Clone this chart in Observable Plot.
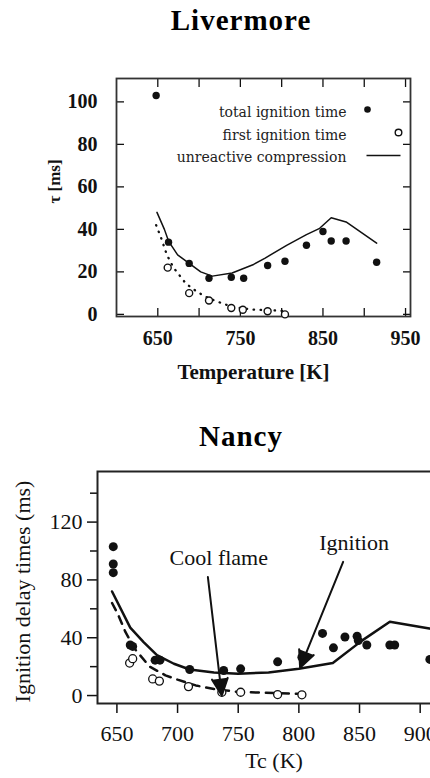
<!DOCTYPE html>
<html><head><meta charset="utf-8">
<script src="https://cdn.jsdelivr.net/npm/d3@7"></script>
<script src="https://cdn.jsdelivr.net/npm/@observablehq/plot@0.6"></script>
<style>
html, body {margin:0; padding:0; width:430px; height:778px; overflow:hidden; background:#fff;}
.title {position:absolute; left:26px; width:430px; text-align:center; font-family:"Liberation Serif", "Times New Roman", serif; font-weight:bold; font-size:29px; line-height:29px; letter-spacing:1px; color:#000;}
#liv {position:absolute; left:0; top:60px;}
#nan {position:absolute; left:0; top:460px; width:470px;}
#liv svg, #nan svg {max-width:none !important;}
#nan svg {width:470px !important; height:320px !important;}
</style></head>
<body>
<div class="title" style="top:6px">Livermore</div>
<div id="liv"></div>
<div class="title" style="top:422px">Nancy</div>
<div id="nan"></div>
<script>
// ---------- Livermore data ----------
const livTitle = "Livermore";
const livTotalT   = [648, 663, 688, 712, 739, 754, 783, 804, 830, 850, 860, 878, 915];
const livTotalTau = [103, 34, 24, 17, 17.5, 17, 23, 25, 32.5, 39, 34.5, 34.5, 24.5];
const livFirstT   = [662, 688, 712, 739, 753, 783, 804];
const livFirstTau = [22, 10, 6.5, 3, 2.2, 1.5, 0];
const livFirstModelT   = [648, 654, 661, 669, 676, 684, 698, 712, 726, 740, 766, 794, 806];
const livFirstModelTau = [42, 36, 28, 22, 18.5, 14.5, 10.5, 7.5, 5.5, 3.5, 2.2, 1.8, 1.5];
const livComprT   = [649, 658, 663, 674, 688, 702, 716, 740, 766, 780, 806, 830, 846, 860, 878, 915];
const livComprTau = [48, 40, 34.5, 28, 24, 20, 18, 19.5, 23.5, 26.5, 32.5, 37.5, 40.5, 45.5, 43.5, 33.5];
const livTickX = [650, 700, 750, 800, 850, 900, 950];
const livLabelX = [650, 750, 850, 950];
const livTickY = [0, 20, 40, 60, 80, 100];
const livLegend = ["total ignition time", "first ignition time", "unreactive compression"];
const livXLabel = "Temperature [K]";
const livYLabel = "τ [ms]";

// ---------- Nancy data ----------
const nanTitle = "Nancy";
const nanIgnT   = [647, 647, 647, 661, 663, 681.5, 685.5, 710, 738, 752, 782.5, 802.5, 819.5, 828.5, 838, 848, 849, 856, 875, 879, 908];
const nanIgnTau = [103, 91, 85, 35, 34, 24.5, 24.5, 18, 17.3, 18.5, 23.3, 26.5, 43, 33, 40.5, 41, 38, 35, 35, 35, 25];
const nanCoolT   = [660.5, 663, 679.5, 685, 709, 736.5, 752, 782.5, 802.5];
const nanCoolTau = [22.5, 25.5, 11.5, 10, 6.2, 2.3, 2.3, 0.7, 0.5];
const nanCoolModelT   = [646, 651, 657, 665, 677, 690, 700, 715, 730, 750, 770, 800];
const nanCoolModelTau = [64, 56, 44, 32, 20, 14, 11, 7, 4.5, 2.5, 2, 1.2];
const nanIgnModelT   = [646, 661, 672, 683, 697, 710, 730, 750, 775, 800, 828, 852, 875, 910];
const nanIgnModelTau = [72, 47, 37, 28, 22, 18, 16, 15, 16, 18.5, 22.5, 38, 51, 46];
const nanTickX = [650, 700, 750, 800, 850, 900];
const nanTickY = [0, 40, 80, 120];
const nanMinorY = [20, 60, 100, 140];
const nanXLabel = "Tc (K)";
const nanYLabel = "Ignition delay times (ms)";
const nanNotes = ["Cool flame", "Ignition"];
const nanNoteT   = [734, 845.5];
const nanNoteTau = [95.5, 105.5];
const nanArrowT1   = [725, 836.5];
const nanArrowTau1 = [82, 92.5];
const nanArrowT2   = [736.5, 801];
const nanArrowTau2 = [0, 19.2];

const pts = (xs, ys) => xs.map((x, i) => ({T: x, tau: ys[i]}));

const legendLine = {draw(ctx) { ctx.moveTo(-17, 0); ctx.lineTo(17, 0); }};

const liv = Plot.plot({
  width: 430, height: 330,
  marginLeft: 116, marginRight: 20, marginTop: 18, marginBottom: 74,
  x: {domain: [600, 956]},
  y: {domain: [-1, 111]},
  style: {fontFamily: "'Liberation Serif', serif", fontWeight: "bold", fontSize: "20px", color: "#111", background: "transparent"},
  marks: [
    Plot.axisX({anchor: "bottom", ticks: livTickX, tickSize: -8, tickFormat: () => "", label: null, strokeWidth: 1.3}),
    Plot.axisX({anchor: "top", ticks: livTickX, tickSize: -8, tickFormat: () => "", label: null, strokeWidth: 1.3}),
    Plot.axisY({anchor: "left", ticks: livTickY, tickSize: -8, tickFormat: () => "", label: null, strokeWidth: 1.3}),
    Plot.axisY({anchor: "right", ticks: livTickY, tickSize: -8, tickFormat: () => "", label: null, strokeWidth: 1.3}),
    Plot.axisX({anchor: "bottom", ticks: livLabelX, tickSize: 0, tickPadding: 14, label: null}),
    Plot.axisY({anchor: "left", ticks: livTickY, tickSize: 0, tickPadding: 19, label: null}),
    Plot.frame({stroke: "#333", strokeWidth: 1.8}),
    Plot.line(pts(livComprT, livComprTau), {x: "T", y: "tau", stroke: "#111", strokeWidth: 1.5}),
    Plot.line(pts(livFirstModelT, livFirstModelTau), {x: "T", y: "tau", stroke: "#111", strokeWidth: 2.3, strokeDasharray: "0.5 6.5", strokeLinecap: "round"}),
    Plot.dot(pts(livTotalT, livTotalTau), {x: "T", y: "tau", r: 3.7, fill: "#111"}),
    Plot.dot(pts(livFirstT, livFirstTau), {x: "T", y: "tau", r: 3.5, fill: "white", stroke: "#111", strokeWidth: 1.4}),
    Plot.text([livLegend.join("\n")], {frameAnchor: "top-right", text: d => d, textAnchor: "end", lineAnchor: "top", lineHeight: 1.63, dx: -64, dy: 22, fontFamily: "'DejaVu Serif', serif", fontWeight: "normal", fontSize: 14, fill: "#222"}),
    Plot.dot([0], {frameAnchor: "top-right", dx: -43, dy: 31, r: 3.3, fill: "#111"}),
    Plot.dot([0], {frameAnchor: "top-right", dx: -12, dy: 54, r: 3.3, fill: "white", stroke: "#111", strokeWidth: 1.4}),
    Plot.dot([0], {frameAnchor: "top-right", dx: -27, dy: 77, symbol: legendLine, stroke: "#111", strokeWidth: 1.5, fill: "none"}),
    Plot.text([livXLabel], {frameAnchor: "bottom", text: d => d, textAnchor: "middle", lineAnchor: "middle", dy: 56, dx: -10, fontSize: 21}),
    Plot.text([livYLabel], {frameAnchor: "left", text: d => d, textAnchor: "middle", lineAnchor: "middle", rotate: -90, dx: -62, dy: -16, fontSize: 17})
  ]
});
document.getElementById("liv").appendChild(liv);

const nan = Plot.plot({
  width: 470, height: 320,
  marginLeft: 97, marginRight: 20, marginTop: 11, marginBottom: 77,
  x: {domain: [634, 925]},
  y: {domain: [-5.5, 155]},
  style: {fontFamily: "'Liberation Serif', serif", fontSize: "22px", color: "#111", background: "transparent"},
  marks: [
    Plot.axisY({ticks: nanTickY, tickSize: 10, tickPadding: 5, label: null, strokeWidth: 1.5}),
    Plot.axisY({ticks: nanMinorY, tickSize: 7, tickFormat: () => "", label: null, strokeWidth: 1.5}),
    Plot.axisX({ticks: nanTickX, tickSize: 10, tickPadding: 12, label: null, strokeWidth: 1.5}),
    Plot.frame({stroke: "#222", strokeWidth: 2}),
    Plot.line(pts(nanIgnModelT, nanIgnModelTau), {x: "T", y: "tau", stroke: "#111", strokeWidth: 2.5}),
    Plot.line(pts(nanCoolModelT, nanCoolModelTau), {x: "T", y: "tau", stroke: "#111", strokeWidth: 2.5, strokeDasharray: "8 7"}),
    Plot.dot(pts(nanIgnT, nanIgnTau), {x: "T", y: "tau", r: 4.5, fill: "#111"}),
    Plot.dot(pts(nanCoolT, nanCoolTau), {x: "T", y: "tau", r: 4, fill: "white", stroke: "#111", strokeWidth: 1.3}),
    Plot.arrow(nanNotes.map((n, i) => ({x1: nanArrowT1[i], y1: nanArrowTau1[i], x2: nanArrowT2[i], y2: nanArrowTau2[i]})),
      {x1: "x1", y1: "y1", x2: "x2", y2: "y2", stroke: "#111", fill: "#111", strokeWidth: 2, headLength: 14, headAngle: 50}),
    Plot.text(nanNotes.map((n, i) => ({n, T: nanNoteT[i], tau: nanNoteTau[i]})), {x: "T", y: "tau", text: "n", fontSize: 22, fill: "#111"}),
    Plot.text([nanXLabel], {frameAnchor: "bottom", text: d => d, textAnchor: "middle", lineAnchor: "middle", dy: 57, fontSize: 22}),
    Plot.text([nanYLabel], {frameAnchor: "left", text: d => d, textAnchor: "middle", lineAnchor: "middle", rotate: -90, dx: -75, dy: 4, fontSize: 22})
  ]
});
document.getElementById("nan").appendChild(nan);
</script>
</body></html>
